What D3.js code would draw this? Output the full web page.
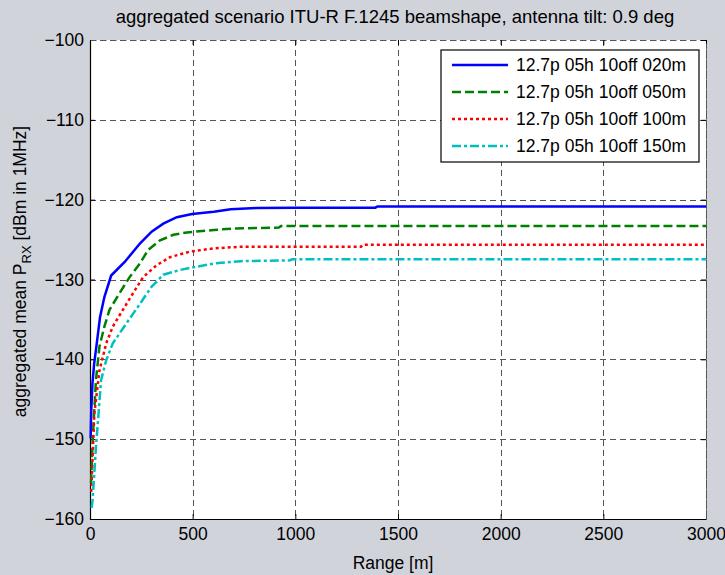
<!DOCTYPE html>
<html lang="en">
<head>
  <meta charset="UTF-8">
  <title>aggregated scenario</title>
  <script src="https://d3js.org/d3.v7.min.js"></script>
  <style>
    html, body {
      margin: 0;
      padding: 0;
      background: #d1d3db;
    }
    svg text {
      font-family: "Liberation Sans", Arial, sans-serif;
      fill: #000;
    }
    .grid line {
      stroke: #555;
      stroke-width: 1px;
      stroke-dasharray: 6 4;
      shape-rendering: crispEdges;
    }
    .line {
      fill: none;
      stroke-width: 2.5px;
    }
  </style>
</head>
<body>
  <script>
    const width = 725;
    const height = 575;
    const margin = {top: 40, right: 19, bottom: 56, left: 90};

    // series names (legend)
    const seriesNames = ['12.7p 05h 10off 020m', '12.7p 05h 10off 050m', '12.7p 05h 10off 100m', '12.7p 05h 10off 150m'];

    // range [m] and mean power [dBm] per series
    const range020 = [3, 6, 12, 20, 30, 49, 70, 103, 169, 243, 300, 357, 423, 497, 603, 685, 810, 1000, 1390, 1400, 3000];
    const prx020 = [-149.9, -146.5, -143.0, -140.6, -138.6, -134.7, -132.2, -129.5, -127.8, -125.5, -124.0, -123.0, -122.2, -121.8, -121.5, -121.2, -121.05, -121.0, -121.0, -120.85, -120.85];

    const range050 = [5, 13, 29, 46, 70, 95, 144, 193, 243, 283, 341, 406, 472, 603, 701, 920, 930, 3000];
    const prx050 = [-155.5, -150.1, -142.6, -138.4, -135.9, -133.8, -131.7, -129.7, -128.0, -126.3, -125.1, -124.4, -124.1, -123.8, -123.6, -123.5, -123.3, -123.3];

    const range100 = [6, 21, 46, 79, 111, 160, 210, 259, 325, 390, 488, 603, 734, 1320, 1330, 3000];
    const prx100 = [-156.6, -146.8, -141.4, -138.0, -135.9, -133.8, -131.7, -129.7, -128.2, -127.2, -126.5, -126.1, -125.9, -125.9, -125.65, -125.65];

    const range150 = [8, 13, 29, 54, 79, 111, 177, 234, 300, 357, 439, 497, 603, 734, 975, 985, 3000];
    const prx150 = [-158.6, -157.5, -151.0, -142.6, -140.1, -138.0, -135.5, -133.4, -130.9, -129.4, -128.8, -128.5, -128.0, -127.7, -127.6, -127.45, -127.45];

    const xTicks = [0, 500, 1000, 1500, 2000, 2500, 3000];
    const yTicks = [-160, -150, -140, -130, -120, -110, -100];

    const colors = ['#0000ff', '#008000', '#ff0000', '#00bfbf'];
    const dashes = ['', '9 4', '3 3', '9 3 3 3'];

    const ranges = [range020, range050, range100, range150];
    const prxs = [prx020, prx050, prx100, prx150];
    const data = ranges.map((r, i) => r.map((x, j) => [x, prxs[i][j]]));

    const innerW = width - margin.left - margin.right;
    const innerH = height - margin.top - margin.bottom;

    const svg = d3.select('body').append('svg')
      .attr('width', width).attr('height', height)
      .style('display', 'block');

    svg.append('text')
      .attr('x', margin.left + innerW / 2 - 3).attr('y', 23)
      .attr('text-anchor', 'middle')
      .style('font-size', '18.5px')
      .text('aggregated scenario ITU-R F.1245 beamshape, antenna tilt: 0.9 deg');

    const g = svg.append('g').attr('transform', `translate(${margin.left},${margin.top})`);

    g.append('rect').attr('width', innerW).attr('height', innerH).attr('fill', '#fff');

    const x = d3.scaleLinear().domain([0, 3000]).range([0, innerW]);
    const y = d3.scaleLinear().domain([-160, -100]).range([innerH, 0]);

    // grid
    const grid = g.append('g').attr('class', 'grid');
    grid.selectAll('.gx').data(xTicks.slice(1)).enter().append('line')
      .attr('x1', d => Math.round(x(d)) + 0.5).attr('x2', d => Math.round(x(d)) + 0.5)
      .attr('y1', 0).attr('y2', innerH);
    grid.selectAll('.gy').data(yTicks.slice(1)).enter().append('line')
      .attr('y1', d => Math.round(y(d)) + 0.5).attr('y2', d => Math.round(y(d)) + 0.5)
      .attr('x1', 0).attr('x2', innerW);

    // axes
    const xAxis = d3.axisBottom(x).tickValues(xTicks).tickFormat(d3.format('d')).tickSize(-5).tickPadding(9).tickSizeOuter(0);
    const yAxis = d3.axisLeft(y).tickValues(yTicks).tickFormat(d3.format('d')).tickSize(-5).tickPadding(6).tickSizeOuter(0);
    const xTop = d3.axisTop(x).tickValues(xTicks).tickSize(-5).tickFormat('').tickSizeOuter(0);
    const yRight = d3.axisRight(y).tickValues(yTicks).tickSize(-5).tickFormat('').tickSizeOuter(0);

    const gx = g.append('g').attr('transform', `translate(0,${innerH})`).call(xAxis);
    const gy = g.append('g').call(yAxis);
    const gt = g.append('g').call(xTop);
    const gr = g.append('g').attr('transform', `translate(${innerW},0)`).call(yRight);
    [gx, gy].forEach(a => {
      a.select('.domain').attr('stroke', '#000').attr('stroke-width', 1.2);
      a.selectAll('.tick line').attr('stroke', '#000');
      a.selectAll('.tick text').style('font-size', '17.5px').style('font-family', '"Liberation Sans", Arial, sans-serif');
    });
    [gt, gr].forEach(a => {
      a.select('.domain').attr('stroke', '#555').attr('stroke-dasharray', '6 4');
      a.selectAll('.tick line').attr('stroke', '#000');
    });

    // lines
    const line = d3.line().x(d => x(d[0])).y(d => y(d[1]));
    g.selectAll('.line').data(data).enter().append('path')
      .attr('class', 'line')
      .attr('d', line)
      .style('stroke', (d, i) => colors[i])
      .style('stroke-dasharray', (d, i) => dashes[i]);

    // axis labels
    svg.append('text')
      .attr('x', margin.left + innerW / 2 - 5).attr('y', 569)
      .attr('text-anchor', 'middle')
      .style('font-size', '17.5px')
      .text('Range [m]');

    const yl = svg.append('text')
      .attr('transform', `translate(26,${margin.top + innerH / 2 - 8}) rotate(-90)`)
      .attr('text-anchor', 'middle')
      .style('font-size', '17.5px');
    yl.append('tspan').text('aggregated mean P');
    yl.append('tspan').attr('dy', 5).style('font-size', '13px').text('RX');
    yl.append('tspan').attr('dy', -5).text(' [dBm in 1MHz]');

    // legend
    const lg = svg.append('g').attr('transform', 'translate(441,50)');
    lg.append('rect').attr('width', 258).attr('height', 112)
      .attr('fill', '#fff').attr('stroke', '#000').attr('stroke-width', 1.2);
    const items = lg.selectAll('.item').data(seriesNames).enter().append('g')
      .attr('transform', (d, i) => `translate(0,${15 + i * 27})`);
    items.append('line')
      .attr('x1', 11).attr('x2', 67).attr('y1', 0).attr('y2', 0)
      .style('stroke', (d, i) => colors[i])
      .style('stroke-width', 2.5)
      .style('stroke-dasharray', (d, i) => dashes[i]);
    items.append('text')
      .attr('x', 75).attr('y', 6)
      .style('font-size', '17.5px')
      .text(d => d);
  </script>
</body>
</html>
